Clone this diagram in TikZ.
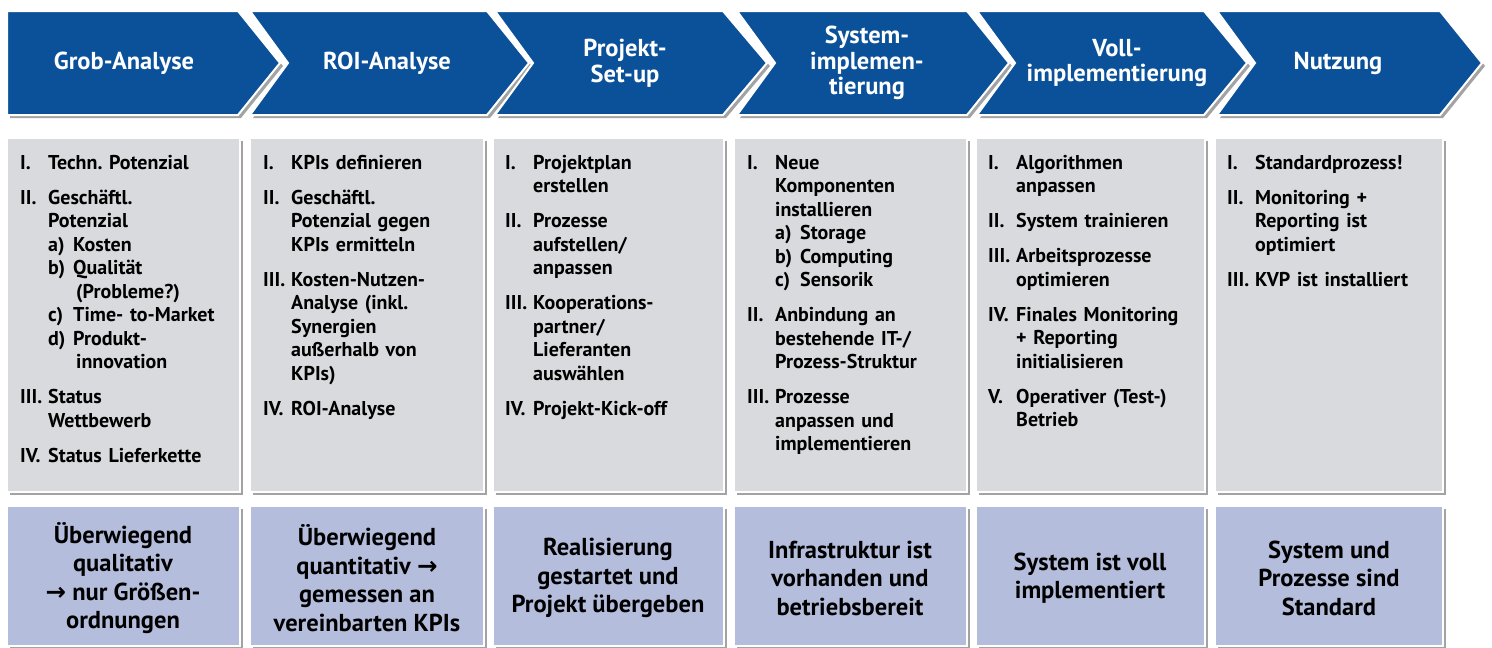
\documentclass[tikz,border=0pt]{standalone}
\usepackage{fontspec}
\setmainfont{PT Sans}
\newfontfamily\arrowfont{DejaVu Sans}
\usetikzlibrary{shadows}
\frenchspacing

\definecolor{phaseblue}{RGB}{11,81,153}
\definecolor{taskgray}{RGB}{217,218,221}
\definecolor{resultblue}{RGB}{180,189,220}

% numbered entry with hanging indent, and lettered sub entry
\newcommand\pitem[2]{{\let\\\newline\hangindent=28pt\hangafter=1\noindent\makebox[28pt][l]{#1}#2\par}}
\newcommand\psub[2]{\makebox[25pt][l]{#1}#2}
\newcommand\rarr{{\arrowfont\bfseries\symbol{"2192}}}

\begin{document}
\begin{tikzpicture}[
  x=1pt, y=-1pt,
  phase/.style={fill=phaseblue, draw=white, line width=2pt,
    drop shadow={shadow xshift=3pt, shadow yshift=-3pt, fill=black!45, opacity=.8}},
  phasetext/.style={text=white, align=center, inner sep=0pt,
    font=\fontsize{24.5}{25.5}\selectfont\bfseries},
  taskbox/.style={fill=taskgray, draw=white, line width=2pt,
    drop shadow={shadow xshift=3pt, shadow yshift=-3pt, fill=black!45, opacity=.8}},
  tasktext/.style={anchor=base west, inner sep=0pt, text width=215pt, align=left,
    font=\fontsize{20}{23.5}\selectfont\bfseries,
    execute at begin node=\setlength{\parskip}{11.5pt}},
  resultbox/.style={fill=resultblue, draw=white, line width=2pt,
    drop shadow={shadow xshift=3pt, shadow yshift=-3pt, fill=black!45, opacity=.8}},
  resulttext/.style={align=center, inner sep=0pt,
    font=\fontsize{24.5}{28.5}\selectfont\bfseries},
]
%general params
\def\ptop{11}   %phase row
\def\pbot{115}
\def\pmid{63}
\def\ttop{138}  %task row
\def\tbot{492}
\def\rtop{506}  %result row
\def\rbot{646}
\def\rmid{578}
\def\tbase{169} %first text line

\useasboundingbox (0,0) rectangle (1492,648);

%phases
\draw[phase] (7,\ptop) -- (238,\ptop) -- (280,\pmid) -- (238,\pbot) -- (7,\pbot) -- cycle;
\draw[phase] (250,\ptop) -- (487,\ptop) -- (529,\pmid) -- (487,\pbot) -- (250,\pbot) -- (288,\pmid) -- cycle;
\draw[phase] (495,\ptop) -- (723,\ptop) -- (767,\pmid) -- (723,\pbot) -- (495,\pbot) -- (533,\pmid) -- cycle;
\draw[phase] (737,\ptop) -- (967,\ptop) -- (1009,\pmid) -- (967,\pbot) -- (737,\pbot) -- (775,\pmid) -- cycle;
\draw[phase] (977,\ptop) -- (1204,\ptop) -- (1247,\pmid) -- (1204,\pbot) -- (977,\pbot) -- (1015,\pmid) -- cycle;
\draw[phase] (1217,\ptop) -- (1440,\ptop) -- (1482,\pmid) -- (1440,\pbot) -- (1217,\pbot) -- (1255,\pmid) -- cycle;

\node[phasetext] (grob) at (124,\pmid) {Grob-Analyse};
\node[phasetext] (roi) at (387,\pmid) {ROI-Analyse};
\node[phasetext] (setup) at (625,\pmid) {Projekt-\\Set-up};
\node[phasetext] (sysimpl) at (867,\pmid) {System-\\implemen-\\tierung};
\node[phasetext] (vollimpl) at (1117,\pmid) {Voll-\\implementierung};
\node[phasetext] (nutzung) at (1338,\pmid) {Nutzung};

%tasks
\draw[taskbox] (7,\ttop) rectangle (240,\tbot);
\draw[taskbox] (250,\ttop) rectangle (484,\tbot);
\draw[taskbox] (493,\ttop) rectangle (724,\tbot);
\draw[taskbox] (734,\ttop) rectangle (967,\tbot);
\draw[taskbox] (976,\ttop) rectangle (1205,\tbot);
\draw[taskbox] (1215,\ttop) rectangle (1443,\tbot);

\node[tasktext] (tasks1) at (20,\tbase) {%
  \pitem{I.}{Techn. Potenzial}
  \pitem{II.}{Geschäftl.\\Potenzial\\
    \psub{a)}{Kosten}\\
    \psub{b)}{Qualität}\\
    \hspace*{28pt}(Probleme?)\\
    \psub{c)}{Time- to-Market}\\
    \psub{d)}{Produkt-}\\
    \hspace*{28pt}innovation}
  \pitem{III.}{Status\\Wettbewerb}
  \pitem{IV.}{Status Lieferkette}};

\node[tasktext] (tasks2) at (263,\tbase) {%
  \pitem{I.}{KPIs definieren}
  \pitem{II.}{Geschäftl.\\Potenzial gegen\\KPIs ermitteln}
  \pitem{III.}{Kosten-Nutzen-\\Analyse (inkl.\\Synergien\\außerhalb von\\KPIs)}
  \pitem{IV.}{ROI-Analyse}};

\node[tasktext] (tasks3) at (505,\tbase) {%
  \pitem{I.}{Projektplan\\erstellen}
  \pitem{II.}{Prozesse\\aufstellen/\\anpassen}
  \pitem{III.}{Kooperations-\\partner/\\Lieferanten\\auswählen}
  \pitem{IV.}{Projekt-Kick-off}};

\node[tasktext] (tasks4) at (747,\tbase) {%
  \pitem{I.}{Neue\\Komponenten\\installieren\\
    \psub{a)}{Storage}\\
    \psub{b)}{Computing}\\
    \psub{c)}{Sensorik}}
  \pitem{II.}{Anbindung an\\bestehende IT-/\\Prozess-Struktur}
  \pitem{III.}{Prozesse\\anpassen und\\implementieren}};

\node[tasktext] (tasks5) at (988,\tbase) {%
  \pitem{I.}{Algorithmen\\anpassen}
  \pitem{II.}{System trainieren}
  \pitem{III.}{Arbeitsprozesse\\optimieren}
  \pitem{IV.}{Finales Monitoring\\+ Reporting\\initialisieren}
  \pitem{V.}{Operativer (Test-)\\Betrieb}};

\node[tasktext] (tasks6) at (1227,\tbase) {%
  \pitem{I.}{Standardprozess!}
  \pitem{II.}{Monitoring +\\Reporting ist\\optimiert}
  \pitem{III.}{KVP ist installiert}};

%results
\draw[resultbox] (7,\rtop) rectangle (240,\rbot);
\draw[resultbox] (250,\rtop) rectangle (484,\rbot);
\draw[resultbox] (493,\rtop) rectangle (724,\rbot);
\draw[resultbox] (734,\rtop) rectangle (967,\rbot);
\draw[resultbox] (976,\rtop) rectangle (1205,\rbot);
\draw[resultbox] (1215,\rtop) rectangle (1443,\rbot);

\node[resulttext] (res1) at (123,\rmid) {Überwiegend\\qualitativ\\\rarr{} nur Größen-\\ordnungen};
\node[resulttext] (res2) at (367,\rmid) {Überwiegend\\quantitativ \rarr\\gemessen an\\vereinbarten KPIs};
\node[resulttext] (res3) at (608,\rmid) {Realisierung\\gestartet und\\Projekt übergeben};
\node[resulttext] (res4) at (850,\rmid) {Infrastruktur ist\\vorhanden und\\betriebsbereit};
\node[resulttext] (res5) at (1090,\rmid) {System ist voll\\implementiert};
\node[resulttext] (res6) at (1329,\rmid) {System und\\Prozesse sind\\Standard};

\end{tikzpicture}
\end{document}
